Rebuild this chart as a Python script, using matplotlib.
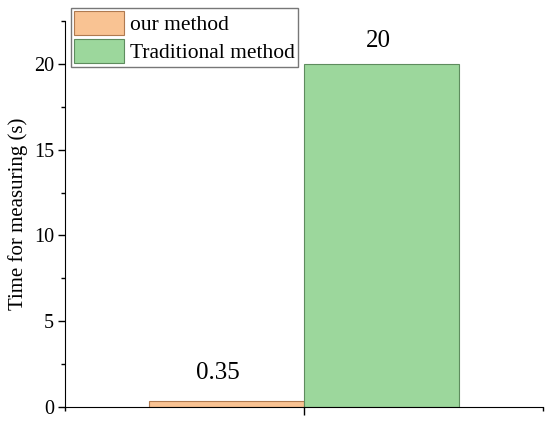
import numpy as np
import matplotlib.pyplot as plt
from matplotlib.ticker import MultipleLocator

methods = ["our method", "Traditional method"]
times = [0.35, 20]
labels = ["0.35", "20"]
positions = [1, 2]
colors = ["#F9C393", "#9CD79C"]
edges = ["#B07A50", "#5E8C5E"]
# label offsets in points (x, y) as placed in the original
offsets = [(-6, 20.5), (-2, 16.5)]

plt.rcParams["font.family"] = ["Liberation Serif", "DejaVu Serif"]

fig = plt.figure(figsize=(5.5, 4.23), dpi=100)
ax = fig.add_axes([65 / 550, 16 / 423, 478 / 550, 386 / 423])

for x, t, lab, c, e, m, off in zip(positions, times, labels, colors, edges, methods, offsets):
    ax.bar(x, t, width=1.0, color=c, edgecolor=e, linewidth=0.8, label=m)
    ax.annotate(lab, (x, t), xytext=off, textcoords="offset points",
                ha="center", va="center", fontsize=18)

xmin, xmax = -0.04, 3.04
ax.set_xlim(xmin, xmax)
ax.set_ylim(0, 22.5)
ax.set_xticks([1.5])
ax.set_xticks([xmin, xmax], minor=True)
ax.set_xticklabels([])
ax.yaxis.set_major_locator(MultipleLocator(5))
ax.yaxis.set_minor_locator(MultipleLocator(2.5))
ax.tick_params(axis="y", which="major", length=5, width=1, labelsize=14.5,
               direction="out", pad=3)
ax.tick_params(axis="y", which="minor", length=3, width=1, direction="out")
ax.tick_params(axis="x", which="major", length=6, width=1, direction="out")
ax.tick_params(axis="x", which="minor", length=3, width=1, direction="out")
ax.spines["top"].set_visible(False)
ax.spines["right"].set_visible(False)
ax.set_ylabel("Time for measuring (s)", fontsize=15, labelpad=4)

ax.legend(loc="upper left", bbox_to_anchor=(6 / 478, 1 + 13 / 386), fontsize=15.5,
          frameon=True, fancybox=False, edgecolor="#555555",
          handlelength=2.3, handleheight=1.3, handletextpad=0.3,
          borderpad=0.15, labelspacing=0.2, borderaxespad=0)

fig.savefig("out.png", dpi=100)
